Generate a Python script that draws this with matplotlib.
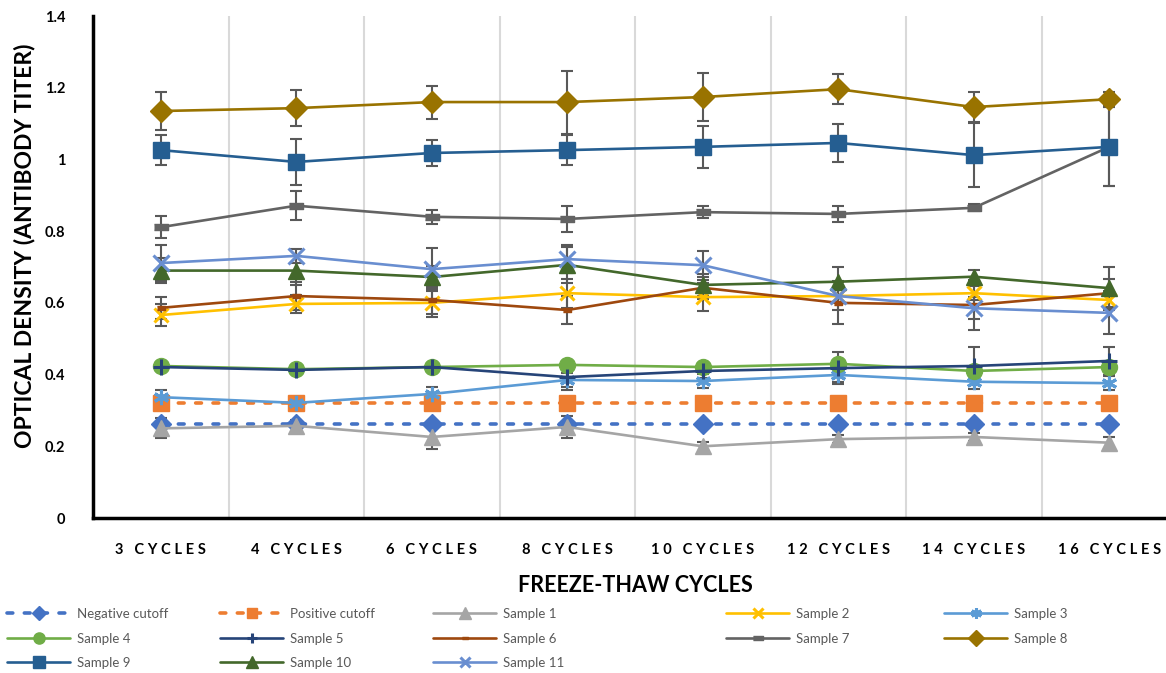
import matplotlib
import matplotlib.pyplot as plt
import numpy as np

matplotlib.use("Agg")

cycles = ["3 CYCLES", "4 CYCLES", "6 CYCLES", "8 CYCLES",
          "10 CYCLES", "12 CYCLES", "14 CYCLES", "16 CYCLES"]

negative_cutoff = [0.262, 0.262, 0.262, 0.262, 0.262, 0.262, 0.262, 0.262]
positive_cutoff = [0.322, 0.322, 0.322, 0.322, 0.322, 0.322, 0.322, 0.322]

sample_1 = [0.250, 0.257, 0.226, 0.254, 0.200, 0.220, 0.226, 0.210]
sample_2 = [0.566, 0.597, 0.600, 0.627, 0.616, 0.619, 0.627, 0.608]
sample_3 = [0.337, 0.321, 0.346, 0.385, 0.382, 0.399, 0.380, 0.376]
sample_4 = [0.424, 0.415, 0.421, 0.427, 0.421, 0.430, 0.410, 0.421]
sample_5 = [0.421, 0.413, 0.421, 0.393, 0.410, 0.418, 0.424, 0.438]
sample_6 = [0.586, 0.619, 0.608, 0.580, 0.642, 0.600, 0.594, 0.627]
sample_7 = [0.811, 0.871, 0.840, 0.834, 0.853, 0.848, 0.865, 1.035]
sample_8 = [1.135, 1.143, 1.160, 1.160, 1.174, 1.196, 1.146, 1.168]
sample_9 = [1.026, 0.993, 1.018, 1.026, 1.035, 1.046, 1.012, 1.035]
sample_10 = [0.690, 0.690, 0.672, 0.706, 0.650, 0.659, 0.673, 0.641]
sample_11 = [0.711, 0.731, 0.694, 0.722, 0.705, 0.619, 0.585, 0.572]

err_1 = [0.028, 0.015, 0.033, 0.030, 0.012, 0.012, 0.010, 0.017]
err_2 = [0.030, 0.025, 0.040, 0.040, 0.040, 0.020, 0.020, 0.020]
err_3 = [0.020, 0.010, 0.020, 0.020, 0.020, 0.020, 0.020, 0.020]
err_4 = [0.010, 0.010, 0.010, 0.010, 0.010, 0.010, 0.010, 0.010]
err_5 = [0.010, 0.010, 0.010, 0.037, 0.020, 0.045, 0.053, 0.040]
err_6 = [0.030, 0.040, 0.040, 0.040, 0.030, 0.060, 0.070, 0.040]
err_7 = [0.030, 0.040, 0.020, 0.036, 0.017, 0.023, 0.010, 0.110]
err_8 = [0.053, 0.050, 0.046, 0.088, 0.068, 0.042, 0.043, 0.020]
err_9 = [0.042, 0.063, 0.035, 0.042, 0.059, 0.053, 0.090, 0.110]
err_10 = [0.035, 0.040, 0.030, 0.050, 0.030, 0.040, 0.020, 0.060]
err_11 = [0.050, 0.020, 0.060, 0.040, 0.040, 0.040, 0.030, 0.060]

series = [
    ("Negative cutoff", negative_cutoff, None),
    ("Positive cutoff", positive_cutoff, None),
    ("Sample 1", sample_1, err_1),
    ("Sample 2", sample_2, err_2),
    ("Sample 3", sample_3, err_3),
    ("Sample 4", sample_4, err_4),
    ("Sample 5", sample_5, err_5),
    ("Sample 6", sample_6, err_6),
    ("Sample 7", sample_7, err_7),
    ("Sample 8", sample_8, err_8),
    ("Sample 9", sample_9, err_9),
    ("Sample 10", sample_10, err_10),
    ("Sample 11", sample_11, err_11),
]

bar7 = [(-1, -0.45), (1, -0.45), (1, 0.45), (-1, 0.45)]
styles = {
    "Negative cutoff": dict(color="#4472C4", marker="D", ms=10, ls=(0, (1.6, 3.2)), lw=2.6),
    "Positive cutoff": dict(color="#ED7D31", marker="s", ms=11, ls=(0, (1.6, 3.2)), lw=2.6),
    "Sample 1": dict(color="#A5A5A5", marker="^", ms=12),
    "Sample 2": dict(color="#FFC000", marker="x", ms=10, mew=2.2),
    "Sample 3": dict(color="#5B9BD5", marker=(6, 2, 0), ms=11, mew=2.2),
    "Sample 4": dict(color="#70AD47", marker="o", ms=11.5),
    "Sample 5": dict(color="#264478", marker="+", ms=11, mew=2.2),
    "Sample 6": dict(color="#9E480E", marker=bar7, ms=6),
    "Sample 7": dict(color="#636363", marker=bar7, ms=10),
    "Sample 8": dict(color="#997300", marker="D", ms=11),
    "Sample 9": dict(color="#255E91", marker="s", ms=12),
    "Sample 10": dict(color="#43682B", marker="^", ms=12),
    "Sample 11": dict(color="#698ED0", marker="x", ms=11, mew=2.2),
}

font = ["Lato", "DejaVu Sans"]
plt.rcParams["font.family"] = font


def spaced(label):
    # wide letter spacing of the category labels
    return "\u2009\u2009".join(label)


fig = plt.figure(figsize=(11.66, 6.73), dpi=100)
ax = fig.add_axes([93 / 1166, 155 / 673, 1084 / 1166, 502 / 673])
x = np.arange(len(cycles))

handles = {}
for i, (name, values, err) in enumerate(series):
    st = dict(styles[name])
    if err is not None:
        ax.errorbar(x, values, yerr=err, fmt="none", ecolor="#595959",
                    elinewidth=1.5, capsize=4.3, capthick=1.5, zorder=2 + i * 0.1)
    lw = st.pop("lw", 1.9)
    ls = st.pop("ls", "-")
    color = st.pop("color")
    (line,) = ax.plot(x, values, color=color, lw=lw, ls=ls, mfc=color, mec=color,
                      dash_capstyle="round", solid_capstyle="round",
                      label=name, zorder=3 + i * 0.1, **st)
    handles[name] = line

ax.set_xlim(-0.5, 7.5)
ax.set_ylim(0, 1.4)
ax.set_yticks(np.arange(0, 1.41, 0.2))
ax.set_yticklabels(["0", "0.2", "0.4", "0.6", "0.8", "1", "1.2", "1.4"])
ax.set_xticks(x)
ax.set_xticklabels([spaced(c) for c in cycles])
ax.set_xticks(np.arange(0.5, 7.5, 1), minor=True)
ax.grid(True, which="minor", axis="x", color="#D9D9D9", lw=1.5, zorder=0)
ax.tick_params(axis="both", which="both", length=0)
ax.tick_params(axis="x", pad=18, labelsize=10.5, labelcolor="black")
ax.tick_params(axis="y", pad=20, labelsize=10.5, labelcolor="black")
for lab in ax.get_xticklabels() + ax.get_yticklabels():
    lab.set_fontweight("bold")

for s in ["top", "right"]:
    ax.spines[s].set_visible(False)
for s in ["left", "bottom"]:
    ax.spines[s].set_linewidth(2.5)
    ax.spines[s].set_color("black")

ax.set_xlabel("FREEZE-THAW CYCLES", fontsize=15.5, fontweight="bold", labelpad=13)
fig.text(25 / 1166, 1 - 246 / 673, "OPTICAL DENSITY (ANTIBODY TITER)", rotation=90,
         ha="center", va="center", fontsize=16.5, fontweight="bold")

columns = [
    (7, ["Negative cutoff", "Sample 4", "Sample 9"]),
    (220, ["Positive cutoff", "Sample 5", "Sample 10"]),
    (433, ["Sample 1", "Sample 6", "Sample 11"]),
    (726, ["Sample 2", "Sample 7"]),
    (944, ["Sample 3", "Sample 8"]),
]
for px, names in columns:
    leg = fig.legend([handles[n] for n in names], names, loc="upper left",
                     bbox_to_anchor=(px / 1166, 1 - 608 / 673), frameon=False,
                     borderpad=0, borderaxespad=0, handlelength=4.8,
                     handletextpad=0.5, labelspacing=0.95, fontsize=9.5,
                     markerscale=0.7)
    for t in leg.get_texts():
        t.set_color("#595959")

fig.savefig("out.png", dpi=100)
